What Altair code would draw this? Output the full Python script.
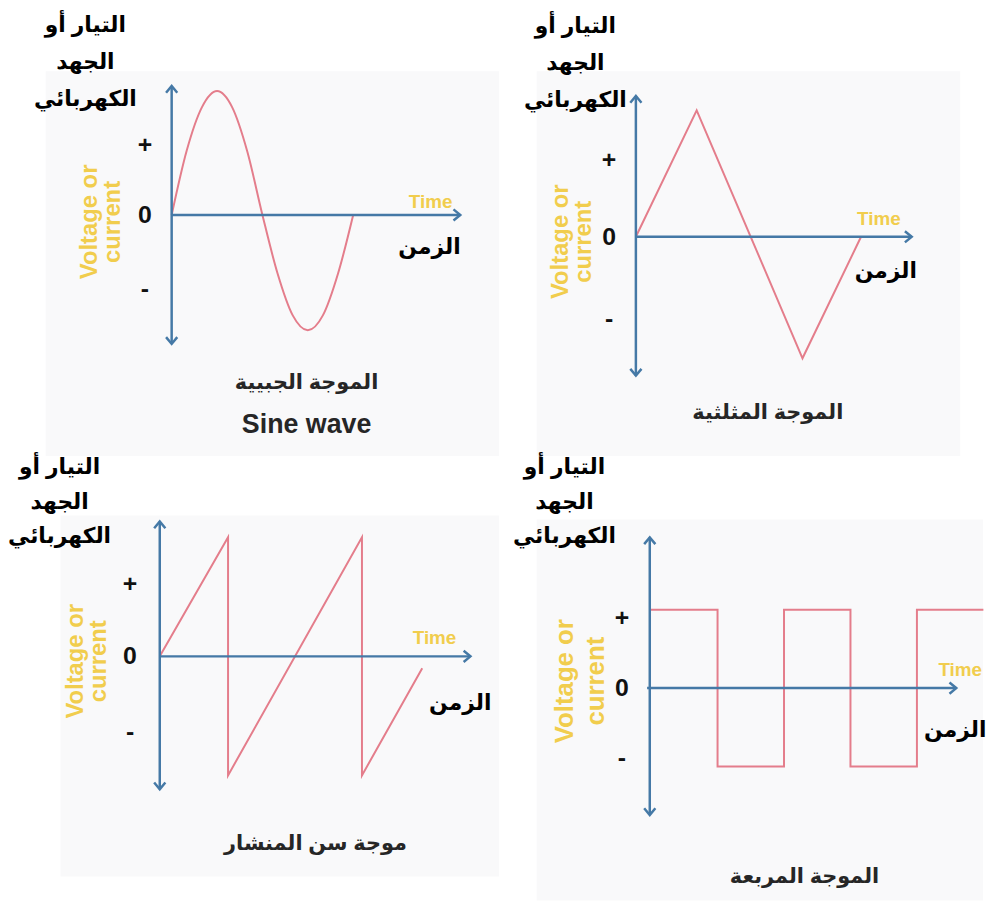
import altair as alt
import pandas as pd

# ---------------- data ----------------
# Sine wave: time in periods, value in amplitude units
sine_t = [0.0, 0.083, 0.167, 0.25, 0.333, 0.417, 0.5, 0.583, 0.667, 0.75, 0.833, 0.917, 1.0]
sine_v = [0.0, 0.52, 0.87, 1.0, 0.87, 0.51, 0.0, -0.47, -0.81, -0.93, -0.81, -0.47, 0.0]

# Triangle wave
tri_t = [0.0, 0.27, 0.51, 0.74, 1.0]
tri_v = [0.0, 1.02, 0.0, -0.98, 0.0]

# Sawtooth wave
saw_t = [0.0, 0.51, 0.51, 1.51, 1.51, 1.96]
saw_v = [0.0, 1.0, -1.0, 1.0, -1.0, -0.1]

# Square wave
sq_t = [0.0, 0.51, 0.51, 1.01, 1.01, 1.51, 1.51, 2.01, 2.01, 2.51]
sq_v = [1.0, 1.0, -1.0, -1.0, 1.0, 1.0, -1.0, -1.0, 1.0, 1.0]

tick_labels = ["+", "0", "-"]
sine_ticks = [0.56, 0.0, -0.6]
tri_ticks = [0.62, 0.0, -0.66]
saw_ticks = [0.61, 0.0, -0.64]
sq_ticks = [0.89, 0.0, -0.89]

y_title = ["التيار أو", "الجهد", "الكهربائي"]
volt_text = ["Voltage or", "current"]
time_en = "Time"
time_ar = "الزمن"
sine_title = "الموجة الجبيية"
sine_sub = "Sine wave"
tri_title = "الموجة المثلثية"
saw_title = "موجة سن المنشار"
sq_title = "الموجة المربعة"

# ---------------- styling ----------------
W, H = 494, 448
AXIS_BLUE = "#4579a6"
WAVE_RED = "#e47d8b"
YELLOW = "#f1cd4d"
LATIN = "Liberation Sans, Arial, sans-serif"
ARABIC = "Arial, DejaVu Sans, sans-serif"

one = pd.DataFrame({"k": [0]})


def make_panel(wt, wv, interp, g, ticks, title, sub=None):
    ox, oy, sx, sy = g["origin"][0], g["origin"][1], g["sx"], g["sy"]
    xs = alt.Scale(domain=[-ox / sx, (W - ox) / sx], nice=False, zero=False)
    ys = alt.Scale(domain=[-(H - oy) / sy, oy / sy], nice=False, zero=False)

    def X(f):
        return alt.X(f, type="quantitative", scale=xs, axis=None)

    def Y(f):
        return alt.Y(f, type="quantitative", scale=ys, axis=None)

    bx1, by1, bx2, by2 = g["bg"]
    bg = alt.Chart(one).mark_rect(fill="#f9f9fa").encode(
        x=alt.value(bx1), x2=alt.value(bx2), y=alt.value(by1), y2=alt.value(by2)
    )

    top, bottom, right = g["axis"]
    vaxis = alt.Chart(pd.DataFrame({"t": [0.0], "v1": [bottom], "v2": [top]})).mark_rule(
        color=AXIS_BLUE, strokeWidth=2.5
    ).encode(x=X("t"), y=Y("v1"), y2=alt.Y2("v2"))
    haxis = alt.Chart(pd.DataFrame({"t1": [g.get("hstart", 0.0)], "t2": [right], "v": [0.0]})).mark_rule(
        color=AXIS_BLUE, strokeWidth=2.5
    ).encode(x=X("t1"), x2=alt.X2("t2"), y=Y("v"))

    def arrow(t, v, path):
        return alt.Chart(pd.DataFrame({"t": [t], "v": [v]})).mark_point(
            shape=path, filled=False, stroke=AXIS_BLUE, strokeWidth=2.5, size=260, opacity=1
        ).encode(x=X("t"), y=Y("v"))

    up = arrow(0.0, top, "M-0.7,0.85L0,0L0.7,0.85")
    down = arrow(0.0, bottom, "M-0.7,-0.85L0,0L0.7,-0.85")
    rt = arrow(right, 0.0, "M-0.85,-0.7L0,0L-0.85,0.7")

    wave_df = pd.DataFrame({"t": wt, "v": wv, "o": list(range(len(wt)))})
    wave = alt.Chart(wave_df).mark_line(
        color=WAVE_RED, strokeWidth=2, interpolate=interp
    ).encode(x=X("t"), y=Y("v"), order="o:Q")

    tick_df = pd.DataFrame({"label": tick_labels, "v": ticks})
    tick_text = alt.Chart(tick_df).mark_text(
        font=LATIN, fontSize=25, fontWeight="bold", color="#111111", align="center", baseline="middle"
    ).encode(x=alt.value(g["tick_x"]), y=Y("v"), text="label:N")

    vx, vy = g["volt"]
    volt = alt.Chart(one).mark_text(
        text=volt_text, angle=270, font=LATIN, fontSize=g.get("vfs", 24), fontWeight="bold", color=YELLOW,
        align="center", baseline="middle", lineHeight=g.get("vlh", 23)
    ).encode(x=alt.value(vx), y=alt.value(vy))

    tx, ty = g["time"]
    time_lbl = alt.Chart(one).mark_text(
        text=time_en, font=LATIN, fontSize=19, fontWeight="bold", color=YELLOW,
        align="center", baseline="middle"
    ).encode(x=alt.value(tx), y=alt.value(ty))

    zx, zy = g["zaman"]
    zaman = alt.Chart(one).mark_text(
        text=time_ar, font=ARABIC, fontSize=22, fontWeight="bold", color="#000000",
        align="center", baseline="middle"
    ).encode(x=alt.value(zx), y=alt.value(zy))

    yx, yy = g["ytitle"]
    ytitle = alt.Chart(one).mark_text(
        text=y_title, font=ARABIC, fontSize=22, fontWeight="bold", color="#000000",
        align="center", baseline="middle", lineHeight=g.get("ylh", 37)
    ).encode(x=alt.value(yx), y=alt.value(yy))

    px, py = g["title"]
    ptitle = alt.Chart(one).mark_text(
        text=title, font=ARABIC, fontSize=21, fontWeight="bold", color="#262626",
        align="center", baseline="middle"
    ).encode(x=alt.value(px), y=alt.value(py))

    layers = [bg, wave, vaxis, haxis, up, down, rt, tick_text, volt, time_lbl, zaman, ytitle, ptitle]
    if sub is not None:
        sx_, sy_ = g["sub"]
        layers.append(
            alt.Chart(one).mark_text(
                text=sub, font=LATIN, fontSize=27, fontWeight="bold", color="#262626",
                align="center", baseline="middle"
            ).encode(x=alt.value(sx_), y=alt.value(sy_))
        )
    return alt.layer(*layers).properties(width=W, height=H)


g1 = dict(origin=(164, 205), sx=183, sy=125, axis=(1.04, -1.04, 1.59), tick_x=137,
          volt=(82, 212), time=(425, 192), zaman=(424, 237), ytitle=(77, 14),
          title=(300, 374), sub=(300, 417), bg=(37, 60, 494, 448))
g2 = dict(origin=(138, 227), sx=227, sy=125, axis=(1.136, -1.12, 1.225), tick_x=111,
          volt=(63, 232), time=(383, 209), zaman=(390, 262), ytitle=(77, 15),
          title=(271, 405), bg=(38, 60, 465, 448))
g3 = dict(origin=(152, 202), sx=135, sy=120, axis=(1.133, -1.117, 2.32), tick_x=122,
          volt=(68, 207), time=(429, 184), zaman=(455, 249), ytitle=(51, 11), ylh=35,
          title=(309, 391), bg=(52, 60, 494, 424))
g4 = dict(origin=(152, 234), sx=134, sy=79, axis=(1.924, -1.62, 2.306), tick_x=124,
          volt=(67, 227), vfs=26, vlh=31, time=(465, 216), zaman=(460, 276), ytitle=(66, 11), ylh=35,
          title=(308, 424), bg=(38, 64, 488, 448), hstart=-0.02)

p1 = make_panel(sine_t, sine_v, "monotone", g1, sine_ticks, sine_title, sine_sub)
p2 = make_panel(tri_t, tri_v, "linear", g2, tri_ticks, tri_title)
p3 = make_panel(saw_t, saw_v, "linear", g3, saw_ticks, saw_title)
p4 = make_panel(sq_t, sq_v, "linear", g4, sq_ticks, sq_title)

chart = alt.vconcat(
    alt.hconcat(p1, p2, spacing=0),
    alt.hconcat(p3, p4, spacing=0),
    spacing=0,
).properties(padding=0, background="white").configure_view(stroke=None)

chart.save("out.html", embed_options={"renderer": "svg", "actions": False})
